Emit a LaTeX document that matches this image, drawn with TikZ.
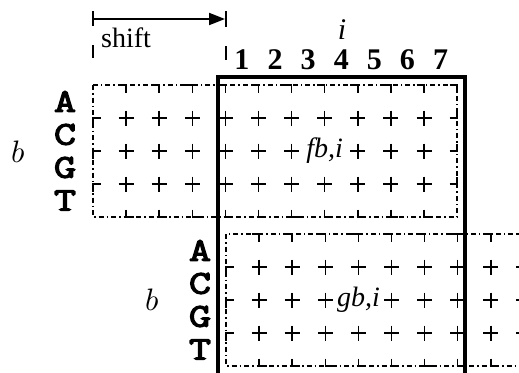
\documentclass[tikz,border=0pt]{standalone}
\usepackage{fontspec}
\setmainfont{Liberation Serif}
\newfontfamily\courfont[FakeBold=4,FakeStretch=1.3]{Latin Modern Mono}
\newfontfamily\mathitfont{Latin Modern Math}
\usetikzlibrary{arrows.meta}
\begin{document}
\begin{tikzpicture}[x=1pt,y=-1pt,
  font=\fontsize{28}{30}\selectfont,
  plusmark/.style={line width=1.5pt},
  tickmark/.style={line width=1.5pt},
  border/.style={line width=1.4pt, dash pattern=on 5pt off 3pt on 1.5pt off 3pt},
  frame/.style={line width=4pt},
  base/.style={font=\courfont\fontsize{33}{35}\selectfont, inner sep=0pt},
  lbl/.style={inner sep=0pt},
  cell/.style={fill=white, inner sep=1pt}]
\useasboundingbox (0,0) rectangle (519,372);
\clip (0,0) rectangle (519,372);
\def\cw{33.1}
\def\arm{7.5}
% ---------- top grid ----------
\draw[border] (93,85) rectangle (457,217);
\foreach \k in {1,...,10}{
  \foreach \j in {1,2,3}{
    \draw[plusmark] ({93+\cw*\k-\arm},{85+33*\j}) -- ++({2*\arm},0)
                    ({93+\cw*\k},{85+33*\j-\arm}) -- ++(0,{2*\arm});
  }
}
\foreach \k in {1,...,11}{
  \draw[tickmark] ({93+\cw*\k-\arm},85) -- ({93+\cw*\k},85) -- ({93+\cw*\k},{85+\arm});
}
\foreach \k in {1,...,10}{
  \draw[tickmark] ({93+\cw*\k},{217-\arm}) -- ({93+\cw*\k},217) -- ({93+\cw*\k+\arm},217);
}
\foreach \j in {1,2,3}{
  \draw[tickmark] (93,{85+33*\j+\arm}) -- (93,{85+33*\j}) -- ({93+\arm},{85+33*\j});
  \draw[tickmark] ({457-\arm},{85+33*\j}) -- (457,{85+33*\j}) -- (457,{85+33*\j-\arm});
}
\node[cell] (f) at ({93+\cw*7},151) {\textit{fb,i}};
% ---------- bottom grid ----------
\draw[border] (226,234) rectangle (600,366);
\foreach \k in {1,...,10}{
  \foreach \j in {1,2,3}{
    \draw[plusmark] ({226+\cw*\k-\arm},{234+33*\j}) -- ++({2*\arm},0)
                    ({226+\cw*\k},{234+33*\j-\arm}) -- ++(0,{2*\arm});
  }
  \draw[tickmark] ({226+\cw*\k-\arm},234) -- ({226+\cw*\k},234) -- ({226+\cw*\k},{234+\arm});
  \draw[tickmark] ({226+\cw*\k},{366-\arm}) -- ({226+\cw*\k},366) -- ({226+\cw*\k+\arm},366);
}
\foreach \j in {1,2,3}{
  \draw[tickmark] (226,{234+33*\j+\arm}) -- (226,{234+33*\j}) -- ({226+\arm},{234+33*\j});
}
\node[cell] (g) at ({226+\cw*4},300) {\textit{gb,i}};
% ---------- thick frame ----------
\draw[frame] (218,400) -- (218,77) -- (465,77) -- (465,400);
% ---------- column numbers ----------
\foreach \n in {1,...,7}{
  \node[lbl, font=\fontsize{30}{32}\selectfont\bfseries] (n\n) at ({93+\cw*(\n+3.5)},60) {\n};
}
\node[lbl, font=\fontsize{30}{32}\selectfont] (i) at (342,30) {\textit{i}};
% ---------- bases ----------
\foreach \b [count=\j from 0] in {A,C,G,T}{
  \node[base] (tb\b) at (65,{101.5+33*\j}) {\b};
  \node[base] (bb\b) at (200,{250.5+33*\j}) {\b};
}
\node[lbl, font=\mathitfont\fontsize{31}{33}\selectfont] (btop) at (18,152) {𝑏};
\node[lbl, font=\mathitfont\fontsize{31}{33}\selectfont] (bbot) at (152,300) {𝑏};
% ---------- shift arrow ----------
\coordinate (s0) at (93,19);
\coordinate (s1) at (226,19);
\draw[line width=1.6pt] (93,11) -- (93,26) (93,45) -- (93,58);
\draw[line width=1.6pt] (226,11) -- (226,27) (226,46) -- (226,60);
\draw[line width=2pt, -{Triangle[length=16pt,width=12pt]}, shorten >=1pt] (s0) -- (s1);
\node[lbl, anchor=base west] (shift) at (101,47) {shift};
\end{tikzpicture}
\end{document}
